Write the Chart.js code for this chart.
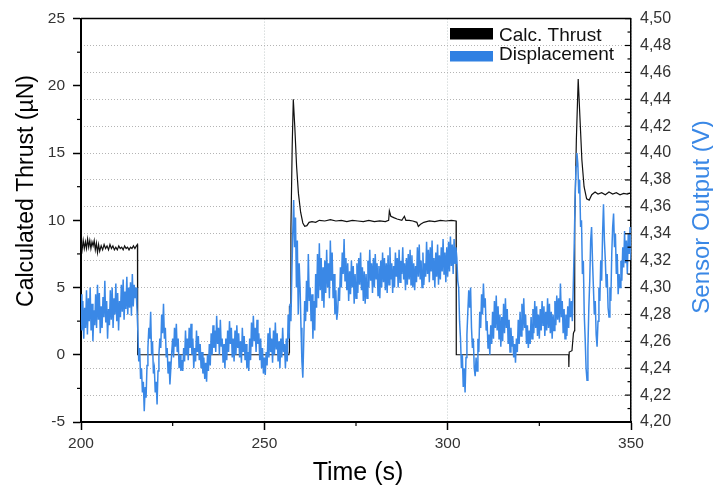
<!DOCTYPE html>
<html>
<head>
<meta charset="utf-8">
<script src="https://cdn.jsdelivr.net/npm/chart.js@4.4.1/dist/chart.umd.min.js"></script>
<style>
  html, body { margin: 0; padding: 0; background: #fff; }
  #wrap { width: 713px; height: 486px; position: relative; }
</style>
</head>
<body>
<div id="wrap"><canvas id="chart"></canvas></div>
<script>
// Calc. Thrust (µN)
const thrustTime = [
  200.0, 200.3, 200.6, 200.9, 201.2, 201.5, 201.8, 202.1, 202.4, 202.7,
  203.0, 203.3, 203.6, 203.9, 204.2, 204.5, 204.8, 205.1, 205.5, 205.9,
  206.3, 206.7, 207.1, 207.5, 207.9, 208.3, 208.7, 209.1, 209.5, 209.9,
  210.3, 210.7, 211.1, 211.5, 211.9, 212.3, 212.7, 213.1, 213.5, 213.9,
  214.3, 214.7, 215.1, 215.4, 215.45, 255.4, 255.6, 255.8, 256.7, 256.8,
  256.85, 257.2, 257.25, 257.6, 257.9, 258.3, 258.8, 259.3, 259.9, 260.5,
  261.0, 261.6, 262.2, 263.0, 264.0, 265.0, 266.5, 268.0, 269.5, 271.0,
  272.5, 274.0, 275.5, 277.0, 278.5, 280.0, 281.5, 283.0, 283.9, 284.1,
  284.5, 285.3, 286.2, 287.5, 288.2, 288.6, 289.5, 290.5, 291.6, 292.0,
  292.6, 293.5, 295.0, 296.5, 298.0, 299.5, 301.0, 302.3, 302.35, 333.0,
  333.05, 333.15, 333.9, 334.3, 334.6, 334.65, 335.1, 335.6, 336.1, 336.6,
  337.2, 337.9, 338.6, 339.3, 340.2, 341.0, 342.0, 343.0, 344.0, 345.0,
  346.0, 347.0, 348.0, 349.0, 350.0
];
const thrustValues = [
  8.3, 7.8, 8.5, 7.9, 8.4, 7.9, 8.6, 8.0, 8.5, 7.9,
  8.4, 8.1, 8.5, 7.8, 8.3, 7.6, 8.2, 7.7, 8.1, 7.8,
  8.2, 7.9, 8.1, 7.8, 8.2, 7.9, 8.1, 7.8, 8.0, 7.8,
  8.1, 7.9, 8.0, 7.8, 8.1, 7.9, 8.0, 7.8, 8.0, 7.9,
  8.1, 7.9, 8.1, 8.2, 0, 0, 0.3, 0, 0, 0.2,
  3.6, 3.6, 9.4, 15.5, 19.0, 17.0, 14.0, 12.0, 10.6, 9.8,
  9.55, 9.6, 9.85, 9.9, 9.85, 10.0, 9.95, 10.05, 9.95, 10.0,
  9.9, 10.0, 9.95, 9.9, 10.0, 9.9, 9.95, 9.9, 10.0, 10.7,
  10.3, 10.2, 10.1, 10.0, 10.3, 10.0, 10.0, 9.95, 9.85, 9.55,
  9.7, 9.85, 9.95, 9.9, 10.0, 9.95, 10.0, 9.95, 0, 0,
  -0.9, 0.2, 0.3, 1.6, 1.8, 9.8, 16.0, 20.5, 17.5, 14.5,
  12.5, 11.6, 11.5, 11.9, 12.1, 11.95, 12.05, 11.9, 12.1, 11.95,
  12.05, 11.9, 12.0, 11.95, 12.05
];

// Displacement sensor output (V), sampled every 0.25 s from 200 s
const dispStart = 200;
const dispStep = 0.25;
const dispValues = [
  4.295, 4.268, 4.290, 4.262, 4.285, 4.270, 4.298, 4.265, 4.292, 4.275, // 200
  4.300, 4.268, 4.288, 4.260, 4.283, 4.272, 4.295, 4.270, 4.302, 4.276, // 202.5
  4.296, 4.266, 4.286, 4.270, 4.293, 4.278, 4.305, 4.274, 4.290, 4.262, // 205
  4.284, 4.272, 4.298, 4.276, 4.300, 4.270, 4.292, 4.280, 4.303, 4.275, // 207.5
  4.296, 4.268, 4.290, 4.278, 4.302, 4.282, 4.306, 4.276, 4.297, 4.284, // 210
  4.308, 4.280, 4.300, 4.285, 4.304, 4.279, 4.310, 4.286, 4.302, 4.292, // 212.5
  4.300, 4.285, 4.268, 4.245, 4.255, 4.232, 4.240, 4.222, 4.230, 4.208, // 215
  4.226, 4.218, 4.242, 4.255, 4.270, 4.262, 4.282, 4.250, 4.260, 4.236, // 217.5
  4.240, 4.222, 4.230, 4.213, 4.238, 4.250, 4.262, 4.255, 4.280, 4.266, // 220
  4.288, 4.262, 4.270, 4.248, 4.255, 4.236, 4.245, 4.228, 4.240, 4.252, // 222.5
  4.262, 4.248, 4.270, 4.256, 4.273, 4.252, 4.262, 4.240, 4.250, 4.238, // 225
  4.246, 4.238, 4.255, 4.245, 4.268, 4.250, 4.262, 4.246, 4.270, 4.255, // 227.5
  4.273, 4.250, 4.262, 4.240, 4.255, 4.245, 4.268, 4.252, 4.264, 4.246, // 230
  4.258, 4.240, 4.252, 4.236, 4.248, 4.232, 4.244, 4.230, 4.250, 4.238, // 232.5
  4.258, 4.242, 4.266, 4.250, 4.272, 4.255, 4.268, 4.252, 4.279, 4.258, // 235
  4.270, 4.250, 4.276, 4.256, 4.262, 4.244, 4.258, 4.240, 4.262, 4.246, // 237.5
  4.268, 4.252, 4.275, 4.258, 4.270, 4.248, 4.262, 4.245, 4.268, 4.250, // 240
  4.272, 4.255, 4.266, 4.248, 4.260, 4.244, 4.270, 4.252, 4.264, 4.246, // 242.5
  4.258, 4.240, 4.252, 4.238, 4.262, 4.246, 4.274, 4.256, 4.279, 4.260, // 245
  4.270, 4.252, 4.276, 4.258, 4.266, 4.246, 4.262, 4.240, 4.255, 4.236, // 247.5
  4.248, 4.235, 4.252, 4.242, 4.266, 4.248, 4.270, 4.252, 4.262, 4.244, // 250
  4.268, 4.250, 4.274, 4.254, 4.266, 4.245, 4.260, 4.240, 4.262, 4.248, // 252.5
  4.270, 4.252, 4.258, 4.240, 4.262, 4.245, 4.280, 4.262, 4.288, 4.275, // 255
  4.310, 4.340, 4.365, 4.330, 4.352, 4.300, 4.335, 4.280, 4.318, 4.300, // 257.5
  4.270, 4.245, 4.233, 4.260, 4.290, 4.275, 4.305, 4.282, 4.325, 4.290, // 260
  4.300, 4.275, 4.295, 4.262, 4.290, 4.268, 4.310, 4.285, 4.325, 4.292, // 262.5
  4.333, 4.298, 4.322, 4.290, 4.315, 4.285, 4.320, 4.296, 4.328, 4.300, // 265
  4.318, 4.292, 4.335, 4.305, 4.326, 4.292, 4.310, 4.280, 4.298, 4.276, // 267.5
  4.282, 4.300, 4.290, 4.315, 4.300, 4.326, 4.310, 4.336, 4.305, 4.322, // 270
  4.298, 4.318, 4.290, 4.312, 4.295, 4.320, 4.300, 4.316, 4.288, 4.310, // 272.5
  4.292, 4.318, 4.296, 4.322, 4.302, 4.326, 4.298, 4.315, 4.290, 4.312, // 275
  4.288, 4.310, 4.292, 4.320, 4.300, 4.328, 4.305, 4.318, 4.296, 4.322, // 277.5
  4.300, 4.325, 4.306, 4.318, 4.294, 4.316, 4.292, 4.320, 4.300, 4.326, // 280
  4.304, 4.322, 4.298, 4.318, 4.296, 4.324, 4.302, 4.330, 4.306, 4.318, // 282.5
  4.296, 4.316, 4.300, 4.326, 4.308, 4.322, 4.300, 4.328, 4.304, 4.320, // 285
  4.310, 4.330, 4.306, 4.318, 4.298, 4.322, 4.302, 4.325, 4.306, 4.328, // 287.5
  4.302, 4.324, 4.300, 4.318, 4.298, 4.316, 4.304, 4.330, 4.308, 4.332, // 290
  4.306, 4.320, 4.300, 4.326, 4.302, 4.318, 4.308, 4.334, 4.310, 4.328, // 292.5
  4.304, 4.330, 4.312, 4.335, 4.306, 4.322, 4.300, 4.326, 4.308, 4.332, // 295
  4.302, 4.324, 4.306, 4.330, 4.312, 4.336, 4.310, 4.326, 4.304, 4.330, // 297.5
  4.308, 4.334, 4.312, 4.338, 4.316, 4.332, 4.310, 4.336, 4.318, 4.330, // 300
  4.322, 4.305, 4.300, 4.275, 4.262, 4.240, 4.250, 4.226, 4.240, 4.222, // 302.5
  4.248, 4.265, 4.282, 4.298, 4.285, 4.300, 4.270, 4.255, 4.262, 4.240, // 305
  4.234, 4.248, 4.238, 4.262, 4.252, 4.282, 4.270, 4.295, 4.280, 4.303, // 307.5
  4.285, 4.292, 4.268, 4.275, 4.255, 4.265, 4.250, 4.272, 4.258, 4.282, // 310
  4.262, 4.290, 4.270, 4.294, 4.268, 4.286, 4.262, 4.280, 4.256, 4.278, // 312.5
  4.260, 4.288, 4.266, 4.292, 4.270, 4.284, 4.258, 4.276, 4.252, 4.270, // 315
  4.256, 4.264, 4.248, 4.258, 4.244, 4.262, 4.252, 4.276, 4.258, 4.282, // 317.5
  4.264, 4.288, 4.268, 4.292, 4.270, 4.280, 4.258, 4.272, 4.255, 4.268, // 320
  4.258, 4.278, 4.262, 4.284, 4.266, 4.290, 4.270, 4.286, 4.264, 4.280, // 322.5
  4.262, 4.284, 4.268, 4.290, 4.272, 4.286, 4.264, 4.282, 4.268, 4.292, // 325
  4.270, 4.288, 4.266, 4.282, 4.262, 4.280, 4.268, 4.290, 4.272, 4.294, // 327.5
  4.276, 4.292, 4.274, 4.303, 4.278, 4.290, 4.266, 4.284, 4.262, 4.280, // 330
  4.264, 4.286, 4.270, 4.292, 4.278, 4.290, 4.275, 4.300, 4.330, 4.365, // 332.5
  4.390, 4.400, 4.392, 4.370, 4.380, 4.345, 4.350, 4.310, 4.320, 4.280, // 335
  4.262, 4.240, 4.231, 4.255, 4.285, 4.305, 4.335, 4.345, 4.320, 4.300, // 337.5
  4.280, 4.290, 4.265, 4.256, 4.275, 4.300, 4.290, 4.320, 4.305, 4.340, // 340
  4.362, 4.335, 4.320, 4.300, 4.310, 4.285, 4.278, 4.300, 4.290, 4.325, // 342.5
  4.345, 4.355, 4.330, 4.340, 4.310, 4.325, 4.295, 4.310, 4.300, 4.320, // 345
  4.305, 4.330, 4.315, 4.342, 4.318, 4.335, 4.310, 4.340, 4.325, 4.345, // 347.5
  4.320                                                                  // 350
];

// axes
const timeTicks = [200, 250, 300, 350];
const timeMinorTicks = [225, 275, 325];
const thrustMinorTicks = [-2.5, 2.5, 7.5, 12.5, 17.5, 22.5];
const sensorMinorTicks = [4.21, 4.23, 4.25, 4.27, 4.29, 4.31, 4.33, 4.35, 4.37, 4.39, 4.41, 4.43, 4.45, 4.47, 4.49];

const FONT = '"Liberation Sans", Arial, sans-serif';
const BLUE = '#3a88e6';

const thrustPoints = thrustTime.map((t, i) => ({ x: t, y: thrustValues[i] }));
const dispPoints = dispValues.map((v, i) => ({ x: dispStart + i * dispStep, y: v }));

function stroke(ctx, x1, y1, x2, y2) {
    ctx.beginPath();
    ctx.moveTo(x1, y1);
    ctx.lineTo(x2, y2);
    ctx.stroke();
}

// frame top, minor ticks, inward right ticks, legend and axis titles
const decor = {
    id: 'decor',
    afterDraw(chart) {
        const { ctx, chartArea: a, scales } = chart;
        ctx.save();
        ctx.strokeStyle = '#000';

        ctx.lineWidth = 1.5;
        stroke(ctx, a.left, a.top, a.right, a.top);

        ctx.lineWidth = 1.2;
        timeMinorTicks.forEach(v => {
            const x = scales.x.getPixelForValue(v);
            stroke(ctx, x, a.bottom, x, a.bottom + 4);
        });
        thrustMinorTicks.forEach(v => {
            const y = scales.y.getPixelForValue(v);
            stroke(ctx, a.left, y, a.left - 4, y);
        });
        scales.y1.ticks.forEach(t => {
            const y = scales.y1.getPixelForValue(t.value);
            stroke(ctx, a.right, y, a.right - 6, y);
        });
        sensorMinorTicks.forEach(v => {
            const y = scales.y1.getPixelForValue(v);
            stroke(ctx, a.right, y, a.right - 3.5, y);
        });

        // legend
        ctx.fillStyle = '#000';
        ctx.fillRect(a.right - 181, 28, 43, 11.5);
        ctx.fillStyle = '#2f80e2';
        ctx.fillRect(a.right - 181, 51, 43, 10.5);
        ctx.fillStyle = '#111';
        ctx.font = '19px ' + FONT;
        ctx.textAlign = 'left';
        ctx.textBaseline = 'alphabetic';
        ctx.fillText('Calc. Thrust', a.right - 132, 41);
        ctx.fillText('Displacement', a.right - 132, 60);

        // axis titles
        ctx.fillStyle = '#000';
        ctx.textAlign = 'center';
        ctx.font = '25px ' + FONT;
        ctx.fillText('Time (s)', (a.left + a.right) / 2 + 2, 480);

        ctx.save();
        ctx.translate(33, 191);
        ctx.rotate(-Math.PI / 2);
        ctx.font = '23px ' + FONT;
        ctx.fillText('Calculated Thrust (µN)', 0, 0);
        ctx.restore();

        ctx.save();
        ctx.translate(709, 217);
        ctx.rotate(-Math.PI / 2);
        ctx.font = '24px ' + FONT;
        ctx.fillStyle = BLUE;
        ctx.fillText('Sensor Output (V)', 0, 0);
        ctx.restore();

        ctx.restore();
    }
};

const tickFont = { family: FONT, size: 15.5 };

new Chart(document.getElementById('chart'), {
    type: 'line',
    data: {
        datasets: [
            {
                label: 'Calc. Thrust',
                data: thrustPoints,
                yAxisID: 'y',
                borderColor: '#111',
                borderWidth: 1.2,
                pointRadius: 0,
                tension: 0,
                order: 2
            },
            {
                label: 'Displacement',
                data: dispPoints,
                yAxisID: 'y1',
                borderColor: BLUE,
                borderWidth: 1.5,
                pointRadius: 0,
                tension: 0,
                order: 1
            }
        ]
    },
    options: {
        responsive: true,
        maintainAspectRatio: false,
        animation: false,
        layout: { padding: { top: 17, left: 0, right: 0, bottom: 0 } },
        plugins: {
            legend: { display: false },
            tooltip: { enabled: false }
        },
        scales: {
            x: {
                type: 'linear',
                position: 'bottom',
                min: 200,
                max: 350,
                afterBuildTicks: s => { s.ticks = timeTicks.map(v => ({ value: v })); },
                afterFit: s => { s.height = 64; },
                ticks: { color: '#333', font: tickFont, padding: 4, maxRotation: 0 },
                grid: {
                    color: '#c4cccc',
                    lineWidth: 1,
                    drawTicks: true,
                    tickLength: 8,
                    tickColor: '#000',
                    tickWidth: 1.5
                },
                border: { color: '#000', width: 2, dash: [1, 2] }
            },
            y: {
                type: 'linear',
                position: 'left',
                min: -5,
                max: 25,
                afterFit: s => { s.width = 81; },
                ticks: { stepSize: 5, color: '#333', font: tickFont, padding: 8 },
                grid: {
                    drawOnChartArea: false,
                    tickLength: 8,
                    tickColor: '#000',
                    tickWidth: 1.5
                },
                border: { color: '#000', width: 2 }
            },
            y1: {
                type: 'linear',
                position: 'right',
                min: 4.2,
                max: 4.5,
                afterFit: s => { s.width = 82; },
                ticks: {
                    stepSize: 0.02,
                    autoSkip: false,
                    color: '#333',
                    font: { family: FONT, size: 16 },
                    padding: 9,
                    callback: v => v.toFixed(2).replace('.', ',')
                },
                grid: {
                    drawOnChartArea: true,
                    drawTicks: false,
                    color: '#b4b4b4',
                    lineWidth: 1
                },
                border: { color: '#000', width: 1.5, dash: [1, 2] }
            }
        }
    },
    plugins: [decor]
});
</script>
</body>
</html>
